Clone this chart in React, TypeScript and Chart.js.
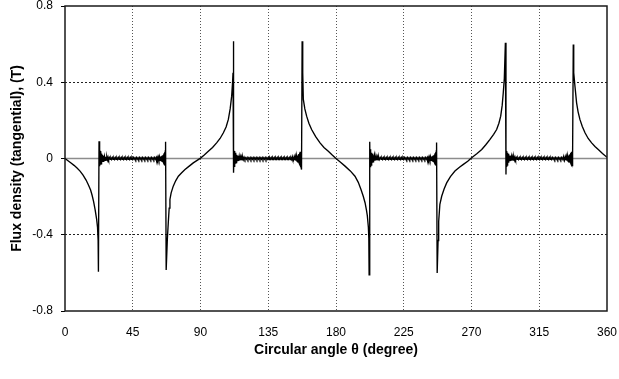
import { useEffect, useRef } from 'react';
import { Chart, registerables } from 'chart.js';

Chart.register(...registerables);

type P = [number, number];

const xTicks = [0, 45, 90, 135, 180, 225, 270, 315, 360];
const yTicks = [-0.8, -0.4, 0, 0.4, 0.8];

// Curve from 0° down to the negative spike near 22.5°
const seg0to22: P[] = [[0, 0], [2, -0.012], [4, -0.024], [6, -0.036], [8, -0.05], [10, -0.066], [12, -0.087], [14, -0.113], [15.5, -0.138], [17, -0.165], [18, -0.193], [19, -0.226], [20, -0.268], [21, -0.318], [21.6, -0.36], [22, -0.43], [22.2, -0.594]];
const ring23: P[] = [[22.6, 0.09], [22.8, -0.04], [23.0, 0.05], [23.2, -0.04], [23.4, 0.04], [23.6, -0.033], [23.8, 0.032], [24.0, -0.028], [24.2, 0.026], [24.4, -0.022], [24.6, 0.02], [24.8, -0.018], [25.0, 0.017], [25.3, -0.015], [25.6, 0.014], [25.9, -0.012], [26.2, 0.011], [26.6, -0.01], [27.0, 0.009], [27.4, -0.008], [27.8, 0.008], [28.2, -0.007], [28.6, 0.007], [29.0, -0.006]];
const flat1: P[] = [[29.5, 0.005], [30, -0.004], [30.5, 0.004], [31, -0.005], [31.5, 0.005], [32, -0.004], [32.5, 0.004], [33, -0.005], [33.5, 0.005], [34, -0.004], [34.5, 0.004], [35, -0.005], [35.5, 0.005], [36, -0.004], [36.5, 0.004], [37, -0.005], [37.5, 0.005], [38, -0.004], [38.5, 0.004], [39, -0.005], [39.5, 0.005], [40, -0.004], [40.5, 0.004], [41, -0.005], [41.5, 0.005], [42, -0.004], [42.5, 0.004], [43, -0.005], [43.5, 0.005], [44, -0.004], [44.5, 0.004], [45, -0.005], [45.5, 0.005], [46, -0.004], [46.5, 0.004], [47, -0.005], [47.5, 0.005], [48, -0.004], [48.5, 0.004], [49, -0.005], [49.5, 0.005], [50, -0.004], [50.5, 0.004], [51, -0.005], [51.5, 0.005], [52, -0.004], [52.5, 0.004], [53, -0.005], [53.5, 0.005], [54, -0.004], [54.5, 0.004], [55, -0.005], [55.5, 0.005], [56, -0.004], [56.5, 0.004], [57, -0.005], [57.5, 0.005], [58, -0.004], [58.5, 0.004], [59, -0.005], [59.5, 0.005], [60, -0.004], [60.5, 0.005], [60.9, -0.005]];
const pre67: P[] = [[61.2, 0.006], [61.6, -0.007], [62.0, 0.007], [62.4, -0.008], [62.8, 0.009], [63.2, -0.01], [63.6, 0.011], [64.0, -0.012], [64.3, 0.014], [64.6, -0.015], [64.9, 0.017], [65.2, -0.019], [65.4, 0.021], [65.6, -0.024], [65.8, 0.027], [66.0, -0.03], [66.2, 0.033], [66.4, -0.036], [66.6, 0.04], [66.8, 0.088], [67.2, -0.585]];
const seg90: P[] = [[68.0, -0.42], [68.6, -0.337], [69.2, -0.26], [69.7, -0.215], [70.5, -0.18], [71.9, -0.145], [73.5, -0.117], [75.3, -0.093], [77.5, -0.075], [79.7, -0.058], [82.5, -0.04], [85.2, -0.023], [87.5, -0.011], [90, 0.002], [92.5, 0.018], [95.2, 0.038], [98, 0.058], [100.7, 0.082], [103, 0.105], [105.2, 0.135], [107, 0.165], [108.5, 0.205], [109.7, 0.26], [110.7, 0.327], [111.3, 0.4], [111.6, 0.45], [111.8, 0.615]];
const post112: P[] = [[112.1, -0.075], [112.3, 0.04], [112.5, -0.045], [112.7, 0.038], [112.9, -0.035], [113.1, 0.03], [113.3, -0.028], [113.5, 0.025], [113.7, -0.022], [113.9, 0.02], [114.1, -0.018], [114.4, 0.016], [114.7, -0.014], [115.0, 0.013], [115.3, -0.012], [115.7, 0.011], [116.1, -0.01], [116.5, 0.009], [116.9, -0.008], [117.3, 0.008], [117.7, -0.007], [118.1, 0.007], [118.5, -0.006], [119.0, 0.006]];
const flat2: P[] = [[119.5, -0.005], [120, 0.004], [120.5, -0.004], [121, 0.005], [121.5, -0.005], [122, 0.004], [122.5, -0.004], [123, 0.005], [123.5, -0.005], [124, 0.004], [124.5, -0.004], [125, 0.005], [125.5, -0.005], [126, 0.004], [126.5, -0.004], [127, 0.005], [127.5, -0.005], [128, 0.004], [128.5, -0.004], [129, 0.005], [129.5, -0.005], [130, 0.004], [130.5, -0.004], [131, 0.005], [131.5, -0.005], [132, 0.004], [132.5, -0.004], [133, 0.005], [133.5, -0.005], [134, 0.004], [134.5, -0.004], [135, 0.005], [135.5, -0.005], [136, 0.004], [136.5, -0.004], [137, 0.005], [137.5, -0.005], [138, 0.004], [138.5, -0.004], [139, 0.005], [139.5, -0.005], [140, 0.004], [140.5, -0.004], [141, 0.005], [141.5, -0.005], [142, 0.004], [142.5, -0.004], [143, 0.005], [143.5, -0.005], [144, 0.004], [144.5, -0.004], [145, 0.005], [145.5, -0.005], [146, 0.004], [146.5, -0.004], [147, 0.005], [147.5, -0.005], [148, 0.004], [148.5, -0.004], [149, 0.005], [149.5, -0.005], [150, 0.004], [150.5, -0.005], [150.8, 0.005]];
const pre157: P[] = [[151.0, -0.006], [151.4, 0.006], [151.8, -0.007], [152.2, 0.008], [152.6, -0.009], [153.0, 0.01], [153.4, -0.011], [153.8, 0.012], [154.1, -0.014], [154.4, 0.015], [154.7, -0.017], [155.0, 0.019], [155.2, -0.021], [155.4, 0.024], [155.6, -0.027], [155.8, 0.03], [156.0, -0.032], [156.2, 0.035], [156.4, -0.036], [156.6, 0.034], [156.8, -0.045], [157.0, 0.03], [157.2, -0.058], [157.5, 0.615]];
const seg180: P[] = [[157.9, 0.45], [158.3, 0.31], [159.3, 0.26], [160.5, 0.222], [162, 0.185], [163.8, 0.152], [166.5, 0.115], [169.4, 0.082], [172, 0.058], [174.9, 0.038], [177.5, 0.018], [180, 0], [183, -0.02], [186, -0.04], [189.5, -0.065], [192.6, -0.093], [194.8, -0.125], [196.6, -0.163], [198.1, -0.198], [199.3, -0.232], [200.2, -0.27], [200.8, -0.3], [201.5, -0.36], [201.8, -0.42], [202.0, -0.61]];
const ring203: P[] = [[202.4, 0.088], [202.6, -0.042], [202.8, 0.048], [203.0, -0.04], [203.2, 0.038], [203.4, -0.034], [203.6, 0.03], [203.8, -0.028], [204.0, 0.025], [204.2, -0.022], [204.4, 0.02], [204.6, -0.018], [204.8, 0.017], [205.1, -0.015], [205.4, 0.013], [205.7, -0.012], [206.0, 0.011], [206.4, -0.01], [206.8, 0.009], [207.2, -0.008], [207.6, 0.008], [208.0, -0.007], [208.4, 0.007], [208.8, -0.006]];
const flat3: P[] = [[209.5, 0.005], [210, -0.004], [210.5, 0.004], [211, -0.005], [211.5, 0.005], [212, -0.004], [212.5, 0.004], [213, -0.005], [213.5, 0.005], [214, -0.004], [214.5, 0.004], [215, -0.005], [215.5, 0.005], [216, -0.004], [216.5, 0.004], [217, -0.005], [217.5, 0.005], [218, -0.004], [218.5, 0.004], [219, -0.005], [219.5, 0.005], [220, -0.004], [220.5, 0.004], [221, -0.005], [221.5, 0.005], [222, -0.004], [222.5, 0.004], [223, -0.005], [223.5, 0.005], [224, -0.004], [224.5, 0.004], [225, -0.005], [225.5, 0.005], [226, -0.004], [226.5, 0.004], [227, -0.005], [227.5, 0.005], [228, -0.004], [228.5, 0.004], [229, -0.005], [229.5, 0.005], [230, -0.004], [230.5, 0.004], [231, -0.005], [231.5, 0.005], [232, -0.004], [232.5, 0.004], [233, -0.005], [233.5, 0.005], [234, -0.004], [234.5, 0.004], [235, -0.005], [235.5, 0.005], [236, -0.004], [236.5, 0.004], [237, -0.005], [237.5, 0.005], [238, -0.004], [238.5, 0.004], [239, -0.005], [239.5, 0.005], [240, -0.004], [240.5, 0.005], [240.9, -0.005]];
const pre247: P[] = [[241.2, 0.006], [241.6, -0.007], [242.0, 0.007], [242.4, -0.008], [242.8, 0.009], [243.2, -0.01], [243.6, 0.011], [244.0, -0.012], [244.3, 0.014], [244.6, -0.015], [244.9, 0.017], [245.2, -0.019], [245.4, 0.021], [245.6, -0.024], [245.8, 0.027], [246.0, -0.03], [246.2, 0.033], [246.4, -0.036], [246.6, 0.04], [246.8, 0.084], [247.2, -0.6]];
const seg270: P[] = [[247.8, -0.43], [248.2, -0.33], [249, -0.24], [250.2, -0.198], [251.8, -0.16], [253.5, -0.128], [256, -0.095], [259, -0.066], [262, -0.046], [264.6, -0.031], [267.5, -0.014], [270.1, 0.004], [273.5, 0.025], [276.8, 0.047], [279.5, 0.072], [282.3, 0.1], [284.7, 0.127], [286.7, 0.152], [288.2, 0.185], [289.4, 0.222], [290.4, 0.28], [291.1, 0.345], [291.8, 0.42], [292.5, 0.607]];
const post292: P[] = [[292.9, -0.084], [293.1, 0.04], [293.3, -0.045], [293.5, 0.038], [293.7, -0.035], [293.9, 0.03], [294.1, -0.028], [294.3, 0.025], [294.5, -0.022], [294.7, 0.02], [294.9, -0.018], [295.2, 0.016], [295.5, -0.014], [295.8, 0.013], [296.1, -0.012], [296.5, 0.011], [296.9, -0.01], [297.3, 0.009], [297.7, -0.008], [298.1, 0.008], [298.5, -0.007], [298.9, 0.007], [299.3, -0.006]];
const flat4: P[] = [[299.8, 0.005], [300.3, -0.004], [300.8, 0.004], [301.3, -0.005], [301.8, 0.005], [302.3, -0.004], [302.8, 0.004], [303.3, -0.005], [303.8, 0.005], [304.3, -0.004], [304.8, 0.004], [305.3, -0.005], [305.8, 0.005], [306.3, -0.004], [306.8, 0.004], [307.3, -0.005], [307.8, 0.005], [308.3, -0.004], [308.8, 0.004], [309.3, -0.005], [309.8, 0.005], [310.3, -0.004], [310.8, 0.004], [311.3, -0.005], [311.8, 0.005], [312.3, -0.004], [312.8, 0.004], [313.3, -0.005], [313.8, 0.005], [314.3, -0.004], [314.8, 0.004], [315.3, -0.005], [315.8, 0.005], [316.3, -0.004], [316.8, 0.004], [317.3, -0.005], [317.8, 0.005], [318.3, -0.004], [318.8, 0.004], [319.3, -0.005], [319.8, 0.005], [320.3, -0.004], [320.8, 0.004], [321.3, -0.005], [321.8, 0.005], [322.3, -0.004], [322.8, 0.004], [323.3, -0.005], [323.8, 0.005], [324.3, -0.004], [324.8, 0.004], [325.3, -0.005], [325.8, 0.005], [326.3, -0.004], [326.8, 0.004], [327.3, -0.005], [327.8, 0.005], [328.3, -0.004], [328.8, 0.004], [329.3, -0.005], [329.8, 0.005], [330.3, -0.004], [330.8, 0.005], [331.1, -0.005]];
const pre337: P[] = [[331.4, 0.006], [331.8, -0.007], [332.2, 0.008], [332.6, -0.009], [333.0, 0.01], [333.4, -0.011], [333.8, 0.012], [334.1, -0.014], [334.4, 0.015], [334.7, -0.017], [335.0, 0.019], [335.3, -0.021], [335.6, 0.024], [335.8, -0.027], [336.0, 0.03], [336.2, -0.032], [336.4, 0.035], [336.6, -0.036], [336.8, 0.03], [337.0, -0.04], [337.3, 0.02], [337.6, 0.598]];
const seg360: P[] = [[337.9, 0.45], [338.7, 0.38], [339.8, 0.292], [340.8, 0.245], [342, 0.205], [343.6, 0.168], [345.4, 0.135], [347.5, 0.105], [349.8, 0.082], [352, 0.063], [354.2, 0.047], [357, 0.026], [360, 0.006]];

const fluxSeries: P[] = [
  ...seg0to22, ...ring23, ...flat1, ...pre67, ...seg90, ...post112, ...flat2, ...pre157,
  ...seg180, ...ring203, ...flat3, ...pre247, ...seg270, ...post292, ...flat4, ...pre337, ...seg360,
];

const FONT = "'Liberation Sans', Arial, Helvetica, sans-serif";

const zeroPaddings = (s: any) => {
  s.paddingTop = 0;
  s.paddingBottom = 0;
  s.paddingLeft = 0;
  s.paddingRight = 0;
};

export default function App() {
  const ref = useRef<HTMLCanvasElement>(null);

  useEffect(() => {
    if (!ref.current) return;
    const framePlugin = {
      id: 'framePlugin',
      beforeDatasetsDraw(chart: any) {
        const { ctx, chartArea, scales } = chart;
        const y0 = scales.y.getPixelForValue(0);
        ctx.save();
        ctx.strokeStyle = '#8c8c8c';
        ctx.lineWidth = 1.5;
        ctx.beginPath();
        ctx.moveTo(chartArea.left, y0);
        ctx.lineTo(chartArea.right, y0);
        ctx.stroke();
        ctx.restore();
      },
      afterDatasetsDraw(chart: any) {
        const { ctx, chartArea } = chart;
        ctx.save();
        ctx.strokeStyle = '#1a1a1a';
        ctx.lineWidth = 1.5;
        ctx.strokeRect(chartArea.left, chartArea.top, chartArea.right - chartArea.left, chartArea.bottom - chartArea.top);
        ctx.restore();
      },
    };

    const chart = new Chart(ref.current, {
      type: 'line',
      data: {
        datasets: [
          {
            data: fluxSeries.map(([x, y]) => ({ x, y })),
            borderColor: '#000',
            borderWidth: 1.35,
            pointRadius: 0,
            tension: 0,
            fill: false,
          },
        ],
      },
      options: {
        responsive: false,
        animation: false,
        layout: { padding: { left: 0, top: 6, right: 12, bottom: 0 } },
        plugins: { legend: { display: false }, tooltip: { enabled: false } },
        scales: {
          x: {
            type: 'linear',
            min: 0,
            max: 360,
            afterBuildTicks: (s: any) => {
              s.ticks = xTicks.map((v) => ({ value: v }));
            },
            afterFit: (s: any) => {
              s.height = 68;
              zeroPaddings(s);
            },
            grid: {
              color: (c: any) => (c.tick && (c.tick.value === 0 || c.tick.value === 360) ? 'rgba(0,0,0,0)' : '#555'),
              lineWidth: 1,
              drawTicks: false,
            },
            border: { display: false, dash: [1, 2] },
            ticks: {
              padding: 14,
              color: '#000',
              autoSkip: false,
              maxRotation: 0,
              font: { family: FONT, size: 12 },
              callback: (v: any) => String(v),
            },
            title: {
              display: true,
              text: 'Circular angle θ (degree)',
              color: '#000',
              font: { family: FONT, size: 14, weight: 'bold' },
              padding: { top: 0, bottom: 20 },
            },
          },
          y: {
            type: 'linear',
            min: -0.8,
            max: 0.8,
            afterBuildTicks: (s: any) => {
              s.ticks = yTicks.map((v) => ({ value: v }));
            },
            afterFit: (s: any) => {
              s.width = 65;
              zeroPaddings(s);
            },
            grid: {
              color: (c: any) => (c.tick && (c.tick.value === 0 || Math.abs(c.tick.value) === 0.8) ? 'rgba(0,0,0,0)' : '#222'),
              lineWidth: 1,
              drawTicks: true,
              tickLength: 4,
              tickColor: '#000',
              tickBorderDash: [],
            },
            border: { display: false, dash: [2, 2] },
            ticks: {
              padding: 8,
              color: '#000',
              font: { family: FONT, size: 12, lineHeight: 1 },
              callback: (v: any) => (Math.abs(v) < 1e-9 ? '0' : Number(v).toFixed(1)),
            },
            title: {
              display: true,
              text: 'Flux density (tangential), (T)',
              color: '#000',
              font: { family: FONT, size: 14, weight: 'bold' },
              padding: { top: 9, bottom: 0 },
            },
          },
        },
      },
      plugins: [framePlugin],
    } as any);

    return () => chart.destroy();
  }, []);

  return (
    <div style={{ position: 'absolute', left: 0, top: 0, width: 619, height: 379, background: '#fff' }}>
      <canvas ref={ref} width={619} height={379} style={{ display: 'block' }} />
    </div>
  );
}
